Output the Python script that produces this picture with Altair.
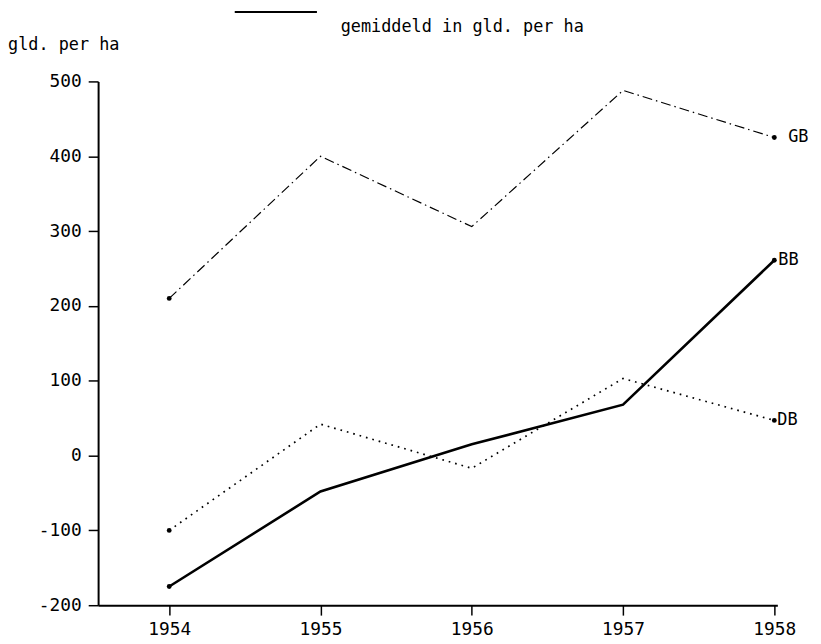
import altair as alt
import pandas as pd

years = [1954, 1955, 1956, 1957, 1958]
gb = [210, 400, 306, 488, 425]
bb = [-175, -48, 15, 68, 261]
db = [-100, 42, -17, 103, 47]
series_names = ["GB", "BB", "DB"]
label_dx = [14, 4, 3]
y_ticks = [-200, -100, 0, 100, 200, 300, 400, 500]

rows = []
for name, vals, ldx in zip(series_names, [gb, bb, db], label_dx):
    for yr, v in zip(years, vals):
        rows.append({"jaar": yr, "waarde": v, "reeks": name, "ldx": ldx})
df = pd.DataFrame(rows)

FONT = "DejaVu Sans Mono"

x_enc = alt.X("jaar:Q", scale=alt.Scale(domain=[1953.53, 1958.02], nice=False, zero=False),
              axis=alt.Axis(values=years, format="d", title=None, grid=False,
                            domainColor="black", domainWidth=2, tickColor="black",
                            tickSize=10, tickWidth=1.5, labelFont=FONT, labelFontSize=18,
                            labelColor="black", labelPadding=6))
y_enc = alt.Y("waarde:Q", scale=alt.Scale(domain=[-200, 500], nice=False),
              axis=alt.Axis(values=y_ticks, title=None, grid=False,
                            domainColor="black", domainWidth=2, tickColor="black",
                            tickSize=10, tickWidth=1.5, labelFont=FONT, labelFontSize=18,
                            labelColor="black", labelPadding=7,
                            labelExpr="datum.value < 0 ? '-' + abs(datum.value) : datum.label"))

base = alt.Chart(df)

styles = {
    "GB": dict(strokeWidth=1.2, strokeDash=[10, 4, 1.5, 4]),
    "BB": dict(strokeWidth=2.6),
    "DB": dict(strokeWidth=1.7, strokeDash=[1.7, 5]),
}

layers = []
for name in series_names:
    layers.append(
        base.transform_filter(alt.datum.reeks == name)
        .mark_line(color="black", **styles[name])
        .encode(x=x_enc, y=y_enc)
    )

ends = base.transform_filter((alt.datum.jaar == 1954) | (alt.datum.jaar == 1958))
layers.append(ends.mark_point(filled=True, color="black", size=24, opacity=1).encode(x="jaar:Q", y="waarde:Q"))

labels = base.transform_filter(alt.datum.jaar == 1958)
for name, ldx in zip(series_names, label_dx):
    layers.append(
        labels.transform_filter(alt.datum.reeks == name)
        .mark_text(align="left", baseline="middle", font=FONT, fontSize=17, color="black", dx=ldx)
        .encode(x="jaar:Q", y="waarde:Q", text="reeks:N")
    )

layers.append(
    alt.Chart(pd.DataFrame({"t": ["gld. per ha"]}))
    .mark_text(align="left", baseline="middle", font=FONT, fontSize=17, color="black")
    .encode(x=alt.value(-91), y=alt.value(-37), text="t:N")
)
layers.append(
    alt.Chart(pd.DataFrame({"t": ["gemiddeld in gld. per ha"]}))
    .mark_text(align="left", baseline="middle", font=FONT, fontSize=17, color="black")
    .encode(x=alt.value(245), y=alt.value(-55), text="t:N")
)
layers.append(
    alt.Chart(pd.DataFrame({"a": [0]}))
    .mark_rule(color="black", strokeWidth=2)
    .encode(x=alt.value(138), x2=alt.value(221), y=alt.value(-70))
)

chart = alt.layer(*layers).properties(
    width=686, height=529,
    autosize=alt.AutoSizeParams(type="none"),
    padding={"left": 91, "top": 71, "right": 36, "bottom": 34},
    background="white",
).configure_view(stroke=None)

chart.save("out.html", embed_options={"renderer": "svg", "actions": False})
